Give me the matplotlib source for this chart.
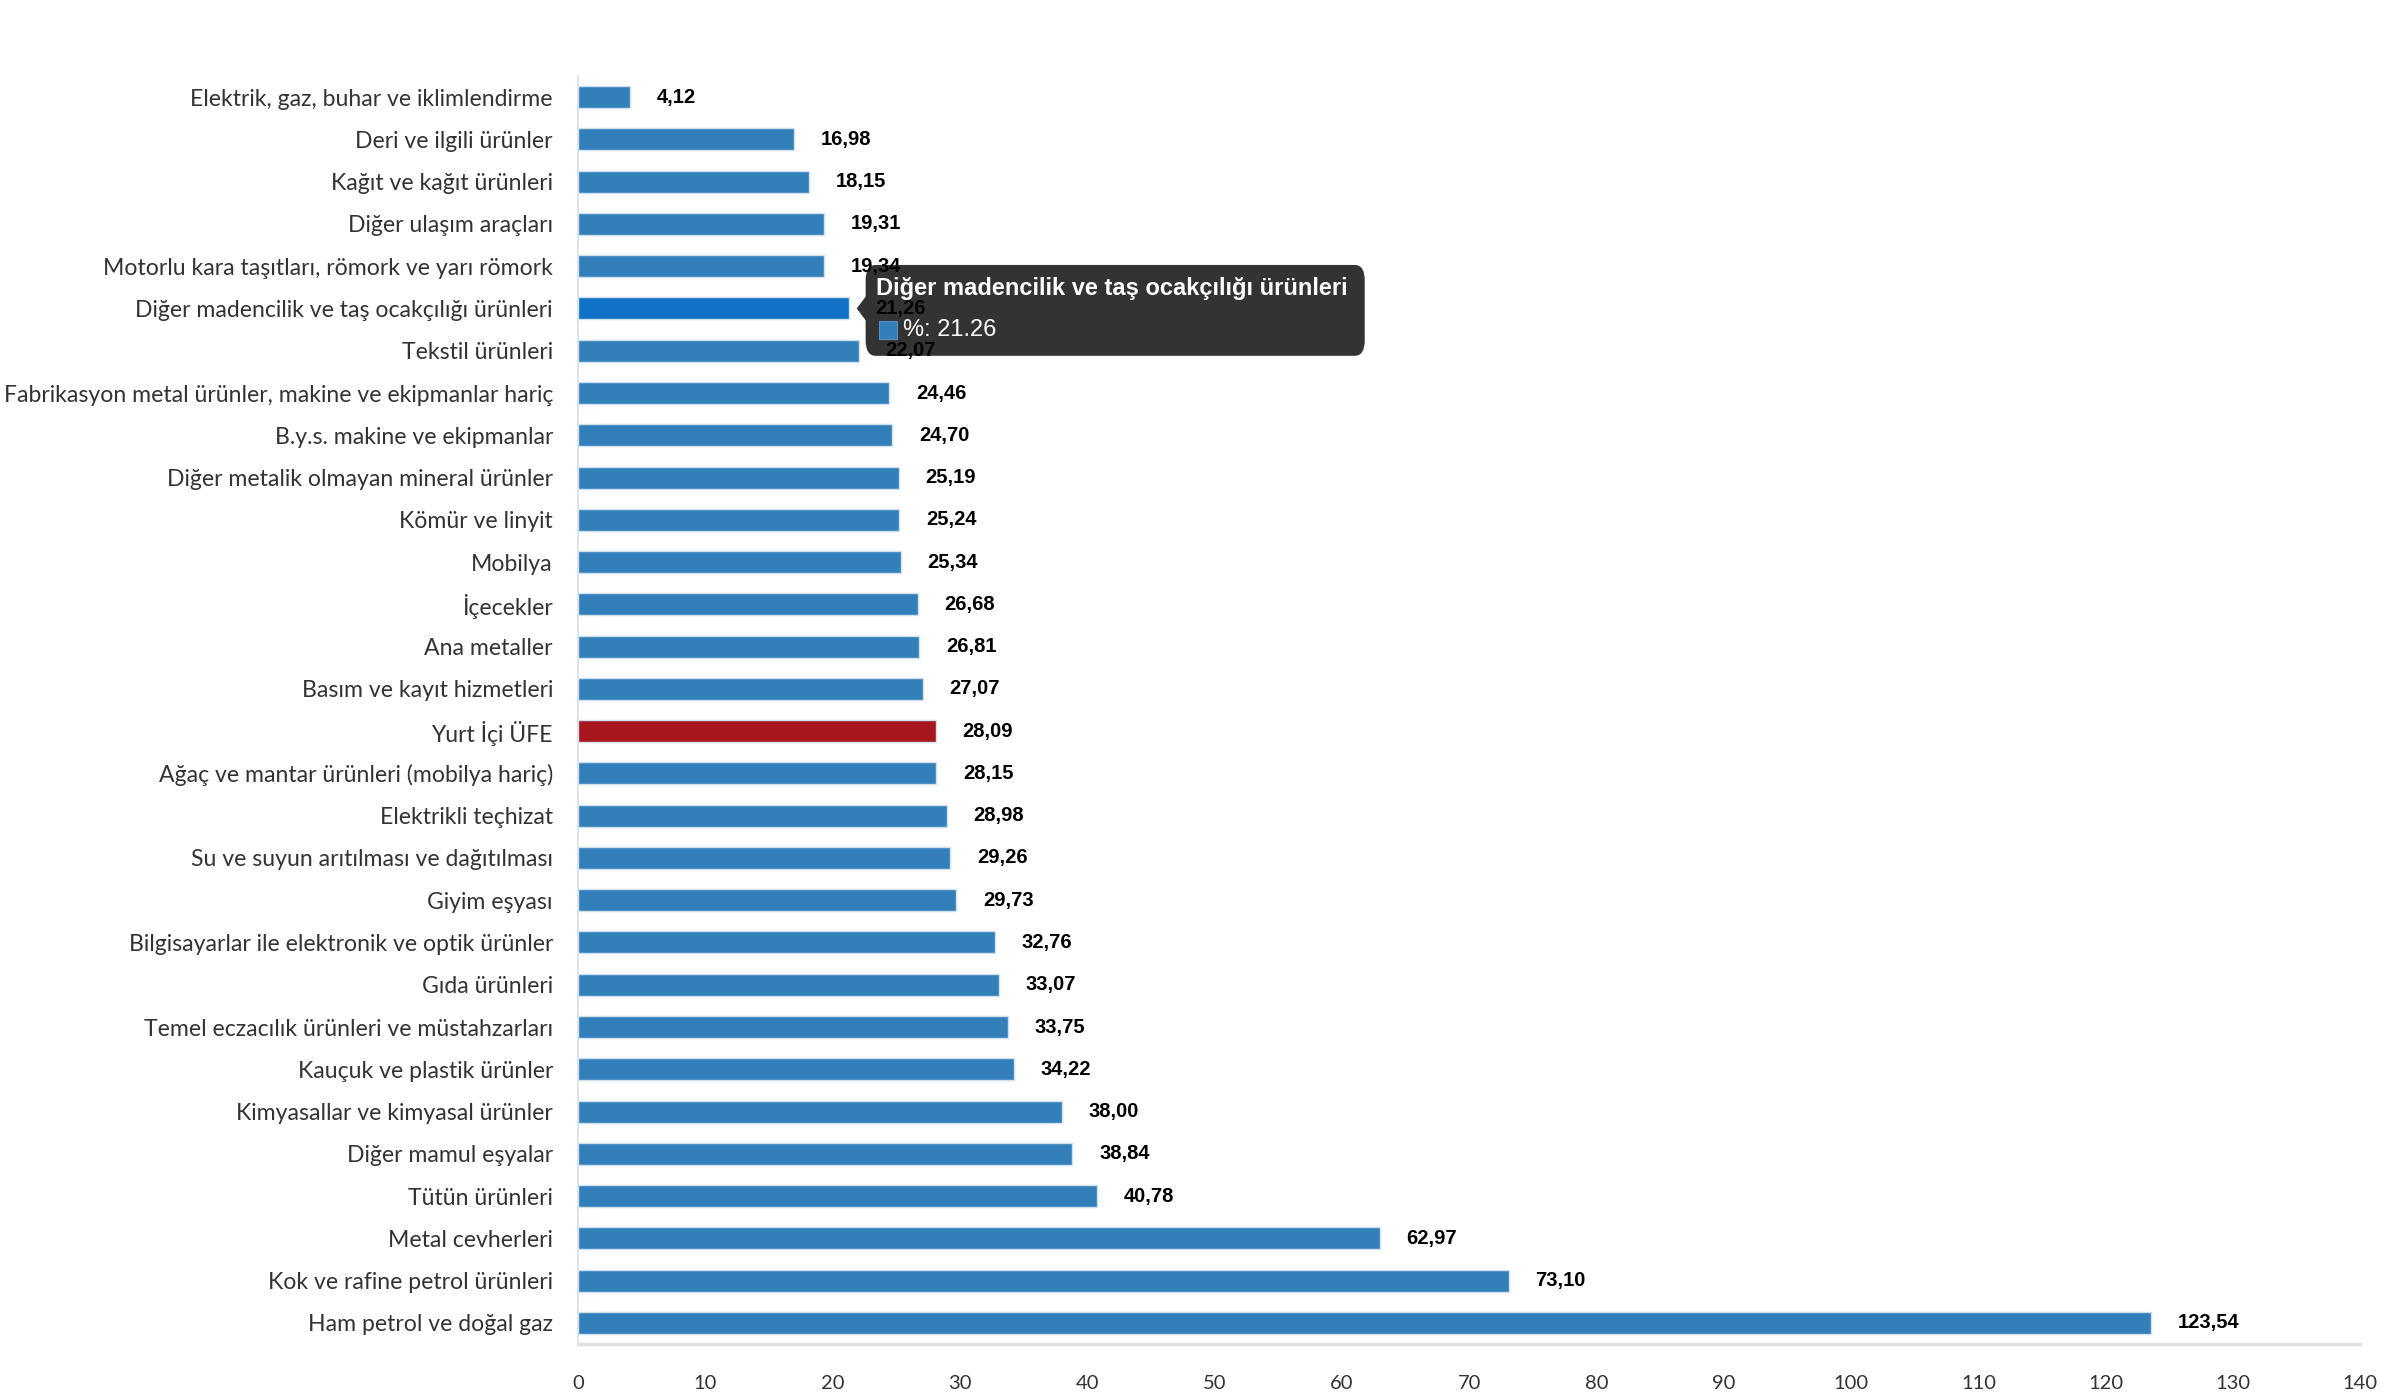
import matplotlib.pyplot as plt
from matplotlib.patches import FancyBboxPatch, Polygon, Rectangle

categories = [
    "Elektrik, gaz, buhar ve iklimlendirme",
    "Deri ve ilgili ürünler",
    "Kağıt ve kağıt ürünleri",
    "Diğer ulaşım araçları",
    "Motorlu kara taşıtları, römork ve yarı römork",
    "Diğer madencilik ve taş ocakçılığı ürünleri",
    "Tekstil ürünleri",
    "Fabrikasyon metal ürünler, makine ve ekipmanlar hariç",
    "B.y.s. makine ve ekipmanlar",
    "Diğer metalik olmayan mineral ürünler",
    "Kömür ve linyit",
    "Mobilya",
    "İçecekler",
    "Ana metaller",
    "Basım ve kayıt hizmetleri",
    "Yurt İçi ÜFE",
    "Ağaç ve mantar ürünleri (mobilya hariç)",
    "Elektrikli teçhizat",
    "Su ve suyun arıtılması ve dağıtılması",
    "Giyim eşyası",
    "Bilgisayarlar ile elektronik ve optik ürünler",
    "Gıda ürünleri",
    "Temel eczacılık ürünleri ve müstahzarları",
    "Kauçuk ve plastik ürünler",
    "Kimyasallar ve kimyasal ürünler",
    "Diğer mamul eşyalar",
    "Tütün ürünleri",
    "Metal cevherleri",
    "Kok ve rafine petrol ürünleri",
    "Ham petrol ve doğal gaz",
]
values = [4.12, 16.98, 18.15, 19.31, 19.34, 21.26, 22.07, 24.46, 24.70, 25.19,
          25.24, 25.34, 26.68, 26.81, 27.07, 28.09, 28.15, 28.98, 29.26, 29.73,
          32.76, 33.07, 33.75, 34.22, 38.00, 38.84, 40.78, 62.97, 73.10, 123.54]
x_ticks = list(range(0, 141, 10))

highlight = "Yurt İçi ÜFE"
hovered = "Diğer madencilik ve taş ocakçılığı ürünleri"

BLUE = "#337fba"
HOVER = "#1072c4"
RED = "#a8161e"

colors = []
for c in categories:
    if c == highlight:
        colors.append(RED)
    elif c == hovered:
        colors.append(HOVER)
    else:
        colors.append(BLUE)

fig = plt.figure(figsize=(23.84, 14), dpi=100)
ax = fig.add_axes([0.2424, 0.04, 0.7477, 0.9057])

ypos = list(range(len(categories)))
ax.barh(ypos, values, height=0.52, color=colors, edgecolor="#cfe0ef", linewidth=1.0, zorder=2)

ax.set_ylim(len(categories) - 0.5, -0.5)
ax.set_xlim(0, 140)
ax.set_yticks(ypos)
ax.set_yticklabels(categories, fontsize=16.6, color="#333333", family=["Lato", "DejaVu Sans"])
ax.set_xticks(x_ticks)
ax.set_xticklabels([str(t) for t in x_ticks], fontsize=14.5, color="#333333",
                   family=["Lato", "DejaVu Sans"])
ax.tick_params(axis="y", length=0, pad=18)
ax.tick_params(axis="x", length=0, pad=22)

for s in ["top", "right"]:
    ax.spines[s].set_visible(False)
ax.spines["left"].set_color("#d8dfe8")
ax.spines["left"].set_linewidth(1.2)
ax.spines["bottom"].set_color("#e0e0e0")
ax.spines["bottom"].set_linewidth(2.5)

# value labels
for y, v in zip(ypos, values):
    ax.text(v + 2.1, y, f"{v:.2f}".replace(".", ","), va="center", ha="left",
            fontsize=14.5, fontweight="bold", color="black",
            family="Liberation Sans", zorder=6)

# tooltip for the hovered bar
hi = categories.index(hovered)
hv = values[hi]
box = FancyBboxPatch((22.6, hi - 1.03), 39.2, 2.15,
                     boxstyle="round,pad=0,rounding_size=0.8",
                     mutation_aspect=0.45,
                     facecolor="#333333", edgecolor="none", zorder=4)
ax.add_patch(box)
ax.add_patch(Polygon([[21.9, hi], [22.65, hi - 0.3], [22.65, hi + 0.3]],
                     closed=True, facecolor="#333333", edgecolor="none", zorder=4))
ax.text(23.4, hi - 0.48, hovered, color="white", fontsize=17, fontweight="bold",
        family="Liberation Sans", va="center", ha="left", zorder=5)
ax.add_patch(Rectangle((23.65, hi + 0.29), 1.43, 0.43, facecolor=BLUE,
                       edgecolor="#5a8fc0", linewidth=0.8, zorder=5))
ax.text(25.5, hi + 0.5, f"%: {hv:.2f}", color="white", fontsize=17,
        family="Liberation Sans", va="center", ha="left", zorder=5)

plt.savefig("out.png", dpi=100)
